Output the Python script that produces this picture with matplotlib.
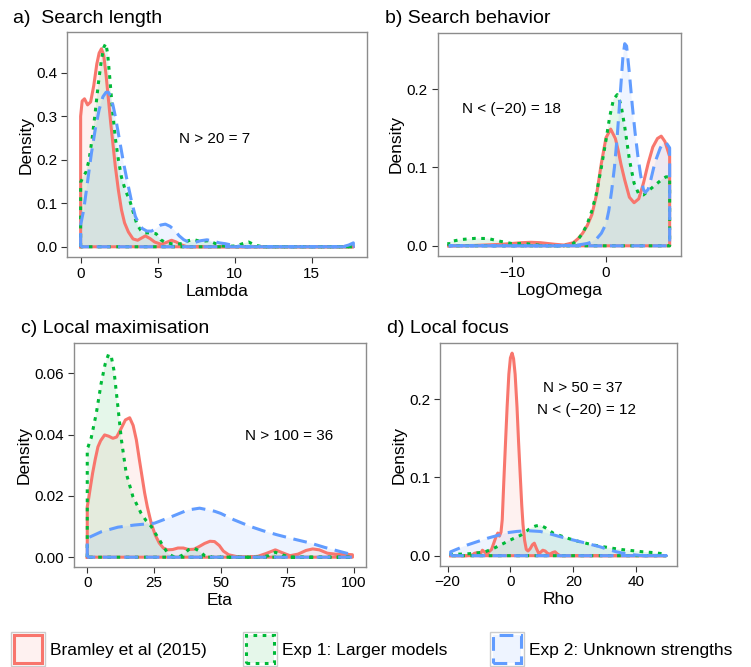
import matplotlib
matplotlib.use("Agg")
import matplotlib.pyplot as plt
from matplotlib.patches import Rectangle

plt.rcParams['font.family'] = ['Liberation Sans', 'DejaVu Sans']

# colores tipo ggplot (3 grupos)
colRed = "#F8766D"
colGreen = "#00BA38"
colBlue = "#619CFF"

# ---------- a) Search length (Lambda) ----------
aRedX = [0, 0.1, 0.25, 0.45, 0.65, 0.85, 1.05, 1.2, 1.35, 1.5, 1.65, 1.8, 1.95, 2.1, 2.25, 2.45, 2.65, 2.85,
         3.1, 3.4, 3.7, 3.95, 4.2, 4.5, 4.8, 5.2, 5.5, 5.9, 6.2, 6.5, 6.9, 17.7]
aRedY = [0.30, 0.335, 0.34, 0.326, 0.333, 0.37, 0.42, 0.445, 0.455, 0.44, 0.395, 0.34, 0.285, 0.235, 0.185,
         0.13, 0.085, 0.055, 0.034, 0.018, 0.015, 0.02, 0.025, 0.019, 0.011, 0.006, 0.009, 0.015, 0.011,
         0.005, 0.0, 0.0]
aGreenX = [0, 0.15, 0.35, 0.55, 0.75, 0.95, 1.15, 1.35, 1.5, 1.63, 1.75, 1.9, 2.05, 2.25, 2.45, 2.65, 2.9,
           3.2, 3.45, 3.65, 3.9, 4.1, 4.5, 4.9, 5.2, 5.5, 5.9, 6.3, 6.7, 7.0, 7.3, 7.7, 8.0, 8.3, 8.7, 9.1,
           9.6, 10.1, 10.5, 10.9, 11.3, 11.8, 17.7]
aGreenY = [0.148, 0.16, 0.172, 0.2, 0.25, 0.31, 0.375, 0.43, 0.458, 0.467, 0.445, 0.385, 0.32, 0.25, 0.2,
           0.16, 0.13, 0.105, 0.075, 0.052, 0.038, 0.032, 0.032, 0.03, 0.016, 0.01, 0.007, 0.006, 0.008,
           0.014, 0.017, 0.013, 0.013, 0.014, 0.008, 0.002, 0.001, 0.002, 0.007, 0.011, 0.004, 0.0, 0.0]
aBlueX = [0, 0.2, 0.45, 0.7, 0.95, 1.2, 1.45, 1.65, 1.8, 1.95, 2.1, 2.25, 2.4, 2.6, 2.8, 3.0, 3.3, 3.55,
          3.75, 4.0, 4.3, 4.6, 4.9, 5.2, 5.5, 5.8, 6.1, 6.4, 6.7, 7.0, 7.4, 7.8, 8.2, 8.6, 9.0, 9.4, 9.8,
          10.5, 17.0, 17.4, 17.7]
aBlueY = [0.05, 0.085, 0.15, 0.215, 0.27, 0.315, 0.345, 0.355, 0.355, 0.345, 0.325, 0.3, 0.27, 0.23, 0.19,
          0.155, 0.105, 0.07, 0.055, 0.042, 0.036, 0.036, 0.042, 0.05, 0.052, 0.047, 0.038, 0.025, 0.016,
          0.011, 0.01, 0.014, 0.016, 0.013, 0.009, 0.007, 0.004, 0.0, 0.0, 0.004, 0.009]

# ---------- b) Search behavior (LogOmega) ----------
bRedX = [-16.8, -14, -11, -9, -8, -7, -5.5, -4.5, -3.5, -3.0, -2.5, -2.0, -1.5, -1.0, -0.5, 0.0, 0.5, 1.0,
         1.3, 1.6, 2.0, 2.5, 3.0, 3.5, 4.0, 4.5, 5.0, 5.5, 5.9, 6.3, 6.8]
bRedY = [0.0, 0.0005, 0.002, 0.004, 0.0045, 0.004, 0.002, 0.001, 0.004, 0.009, 0.016, 0.026, 0.04, 0.066,
         0.105, 0.138, 0.149, 0.137, 0.122, 0.104, 0.084, 0.062, 0.055, 0.06, 0.08, 0.105, 0.126, 0.137,
         0.14, 0.133, 0.114]
bGreenX = [-16.8, -15.5, -14, -12.6, -11.4, -10.1, -8.7, -7.3, -6, -4.5, -3.5, -3.0, -2.5, -2.0, -1.5, -1.0,
           -0.5, 0.0, 0.4, 0.8, 1.2, 1.6, 2.0, 2.5, 3.0, 3.5, 4.0, 4.5, 5.0, 5.5, 6.0, 6.4, 6.8]
bGreenY = [0.005, 0.008, 0.0095, 0.0093, 0.006, 0.003, 0.003, 0.001, 0.0, 0.0, 0.003, 0.008, 0.016, 0.028,
           0.045, 0.068, 0.1, 0.135, 0.165, 0.187, 0.193, 0.18, 0.152, 0.11, 0.08, 0.066, 0.065, 0.07,
           0.075, 0.08, 0.085, 0.088, 0.088]
bBlueX = [-16.8, -5, -3, -2, -1.5, -1, -0.5, 0, 0.3, 0.6, 0.9, 1.2, 1.5, 1.8, 2.0, 2.2, 2.5, 2.8, 3.1, 3.4,
          3.7, 4.0, 4.2, 4.5, 4.8, 5.1, 5.4, 5.8, 6.1, 6.4, 6.8]
bBlueY = [0.0, 0.0, 0.001, 0.003, 0.005, 0.009, 0.016, 0.028, 0.045, 0.07, 0.1, 0.14, 0.19, 0.24, 0.258,
          0.255, 0.22, 0.18, 0.145, 0.115, 0.09, 0.072, 0.068, 0.072, 0.085, 0.1, 0.112, 0.125, 0.131,
          0.132, 0.125]

# ---------- c) Local maximisation (Eta) ----------
cRedX = [0, 0.5, 1.2, 2, 3, 4, 5, 6.5, 8, 9.6, 11, 12.7, 14.3, 15.9, 17.2, 18.4, 19.5, 20.5, 21.5, 22.5,
         24, 25.5, 27, 28.5, 30, 32, 34, 36, 38, 40, 42, 44, 46, 47.7, 49.5, 51, 53, 56, 60, 64, 67, 70.5,
         73, 76, 79, 82, 84.5, 87, 90, 93, 96, 99.4]
cRedY = [0.0165, 0.019, 0.023, 0.0274, 0.032, 0.036, 0.038, 0.0399, 0.0395, 0.0388, 0.0392, 0.042, 0.0448,
         0.0455, 0.043, 0.0383, 0.032, 0.0265, 0.021, 0.0165, 0.011, 0.0072, 0.0046, 0.003, 0.0024, 0.0025,
         0.003, 0.003, 0.0025, 0.0026, 0.0035, 0.0045, 0.0052, 0.0051, 0.0038, 0.002, 0.0008, 0.0002, 0.0,
         0.0003, 0.0012, 0.0024, 0.0015, 0.0005, 0.001, 0.0022, 0.0027, 0.0024, 0.0013, 0.001, 0.001, 0.0008]
cGreenX = [0, 0.3, 1.5, 3.4, 5.2, 6.7, 8, 9, 10, 11.5, 12.8, 14.6, 17.1, 20.2, 22, 24, 25.5, 27.1, 28.5,
           30.2, 32, 34, 36, 38, 40, 42, 44, 47, 55, 65, 68, 70.5, 73, 76, 99.4]
cGreenY = [0.0355, 0.036, 0.039, 0.047, 0.0567, 0.063, 0.0663, 0.0655, 0.061, 0.049, 0.0383, 0.0274, 0.0198,
           0.0143, 0.012, 0.01, 0.0078, 0.0056, 0.0035, 0.0013, 0.0003, 0.0, 0.0008, 0.0025, 0.003, 0.002,
           0.0005, 0.0, 0.0, 0.0, 0.0005, 0.0016, 0.0008, 0.0, 0.0]
cBlueX = [0, 5.25, 11.5, 17.7, 25.2, 31.5, 37.7, 42.1, 47.7, 50, 55, 61.2, 66, 71.2, 77, 83.7, 89, 95, 99.4]
cBlueY = [0.0062, 0.0083, 0.0098, 0.0105, 0.0111, 0.0132, 0.0154, 0.016, 0.015, 0.0143, 0.0122, 0.01,
          0.0086, 0.0073, 0.006, 0.0046, 0.0032, 0.0018, 0.0008]

# ---------- d) Local focus (Rho) ----------
dRedX = [-19, -14, -12, -11.5, -10.5, -9.5, -8.9, -8, -7.2, -6.8, -6, -5.3, -4.6, -4.0, -3.5, -3.0, -2.6,
         -2.1, -1.5, -1.05, -0.5, 0.0, 0.53, 1.0, 1.5, 2.1, 2.6, 3.16, 3.6, 4.0, 4.5, 5.05, 5.6, 6.3, 7.0,
         7.6, 8.3, 9.0, 9.5, 10.3, 11.05, 11.8, 12.6, 13.4, 14.2, 15.0, 15.8, 49.5]
dRedY = [0.0, 0.0, 0.001, 0.003, 0.004, 0.003, 0.007, 0.004, 0.003, 0.005, 0.008, 0.016, 0.024, 0.029,
         0.025, 0.03, 0.046, 0.095, 0.15, 0.19, 0.232, 0.253, 0.259, 0.252, 0.232, 0.19, 0.145, 0.1, 0.065,
         0.04, 0.02, 0.008, 0.006, 0.009, 0.014, 0.016, 0.009, 0.003, 0.004, 0.007, 0.006, 0.003, 0.002,
         0.004, 0.005, 0.002, 0.0, 0.0]
dGreenX = [-19, -15, -11.5, -8, -5.3, -3, -1.05, 1, 3.2, 5, 6.3, 8, 9.5, 11, 13.7, 17, 20, 23, 26.3, 29.5,
           32.6, 35.5, 38.9, 42, 45.3, 49.5]
dGreenY = [0.002, 0.002, 0.003, 0.005, 0.0094, 0.014, 0.018, 0.022, 0.026, 0.031, 0.035, 0.038, 0.039,
           0.036, 0.0286, 0.024, 0.02, 0.017, 0.0137, 0.0115, 0.0094, 0.0078, 0.0064, 0.005, 0.004, 0.002]
dBlueX = [-19, -16, -13.7, -10.5, -7.4, -4, -1.05, 2, 5.3, 9.5, 12.5, 15.8, 19, 22.1, 25, 28.4, 31, 33.7,
          36, 38.9, 42, 49.5]
dBlueY = [0.005, 0.01, 0.0137, 0.018, 0.0222, 0.026, 0.0294, 0.031, 0.032, 0.031, 0.028, 0.0243, 0.021,
          0.018, 0.015, 0.0115, 0.008, 0.005, 0.003, 0.0013, 0.0, 0.0]

# Etiquetas
titulos = ["a)  Search length", "b) Search behavior", "c) Local maximisation", "d) Local focus"]
xlabels = ["Lambda", "LogOmega", "Eta", "Rho"]
notas = [["N > 20 = 7"], ["N < (\u221220) = 18"], ["N > 100 = 36"], ["N > 50 = 37", "N < (\u221220) = 12"]]
leyenda = ["Bramley et al (2015)", "Exp 1: Larger models", "Exp 2: Unknown strengths"]


W, H = 751, 667
fig = plt.figure(figsize=(W / 100, H / 100), dpi=100)


def caja(left, top, right, bottom):
    # pixeles -> fraccion de figura
    return [left / W, 1 - bottom / H, (right - left) / W, (bottom - top) / H]


LW = 2.2
estilos = [(colRed, "-"), (colGreen, (0, (1.2, 1.8))), (colBlue, (0, (4.5, 2.5)))]


def densidad(ax, x, y, color, ls):
    px = [x[0]] + list(x) + [x[-1], x[0]]
    py = [0] + list(y) + [0, 0]
    ax.fill(px, py, color=color, alpha=0.1, lw=0)
    ax.plot(px, py, color=color, lw=LW, ls=ls, solid_joinstyle="round", dash_capstyle="butt")


paneles = [
    (caja(67, 32, 367, 257), [(aRedX, aRedY), (aGreenX, aGreenY), (aBlueX, aBlueY)],
     (-0.885, 18.585), (-0.0235, 0.4935), [0, 5, 10, 15], [0, 0.1, 0.2, 0.3, 0.4], "%.1f"),
    (caja(437.7, 32.7, 680.7, 256), [(bRedX, bRedY), (bGreenX, bGreenY), (bBlueX, bBlueY)],
     (-17.98, 7.98), (-0.013, 0.272), [-10, 0], [0, 0.1, 0.2], "%.1f"),
    (caja(74, 343.3, 365.7, 566.7), [(cRedX, cRedY), (cGreenX, cGreenY), (cBlueX, cBlueY)],
     (-4.97, 104.37), (-0.0031, 0.0698), [0, 25, 50, 75, 100], [0, 0.02, 0.04, 0.06], "%.2f"),
    (caja(440, 343.3, 676.7, 565.7), [(dRedX, dRedY), (dGreenX, dGreenY), (dBlueX, dBlueY)],
     (-22.4, 52.9), (-0.0128, 0.2716), [-20, 0, 20, 40], [0, 0.1, 0.2], "%.1f"),
]

posNotas = [[(8.7, 0.2485)], [(-10.1, 0.1744)], [(75.6, 0.0396)], [(22.9, 0.214), (24.1, 0.186)]]

for i, (pos, curvas, xl, yl, xt, yt, fmt) in enumerate(paneles):
    ax = fig.add_axes(pos)
    for (x, y), (c, ls) in zip(curvas, estilos):
        densidad(ax, x, y, c, ls)
    ax.set_xlim(xl)
    ax.set_ylim(yl)
    ax.set_xticks(xt)
    ax.set_yticks(yt, [fmt % v for v in yt])
    for s in ax.spines.values():
        s.set_color("#8c8c8c")
        s.set_linewidth(1.0)
    ax.tick_params(length=4, width=0.8, color="#333333", labelsize=11, labelcolor="black", pad=3)
    ax.set_xlabel(xlabels[i], fontsize=12.5, labelpad=2)
    ax.set_ylabel("Density", fontsize=12.5, labelpad=2)
    for txt, (tx, ty) in zip(notas[i], posNotas[i]):
        ax.text(tx, ty, txt, ha="center", va="center", fontsize=11)

# titulos de cada panel
fig.text(12.7 / W, 1 - 22.7 / H, titulos[0], fontsize=14, va="baseline")
fig.text(385 / W, 1 - 22.7 / H, titulos[1], fontsize=14, va="baseline")
fig.text(20.7 / W, 1 - 333.3 / H, titulos[2], fontsize=14, va="baseline")
fig.text(386.7 / W, 1 - 333.3 / H, titulos[3], fontsize=14, va="baseline")

# leyenda abajo
keysX = [11, 243, 490]
for (c, ls), nombre, kx in zip(estilos, leyenda, keysX):
    fig.add_artist(Rectangle((kx / W, 1 - 666 / H), 34 / W, 34 / H, transform=fig.transFigure,
                             facecolor="white", edgecolor="#cccccc", lw=1))
    fig.add_artist(Rectangle(((kx + 3) / W, 1 - 663 / H), 28 / W, 28 / H, transform=fig.transFigure,
                             facecolor=c, alpha=0.1, lw=0))
    fig.add_artist(Rectangle(((kx + 3) / W, 1 - 663 / H), 28 / W, 28 / H, transform=fig.transFigure,
                             facecolor="none", edgecolor=c, lw=LW, ls=ls))
    fig.text((kx + 39) / W, 1 - 651 / H, nombre, fontsize=12.5, va="center")

fig.savefig("out.png", dpi=100)
